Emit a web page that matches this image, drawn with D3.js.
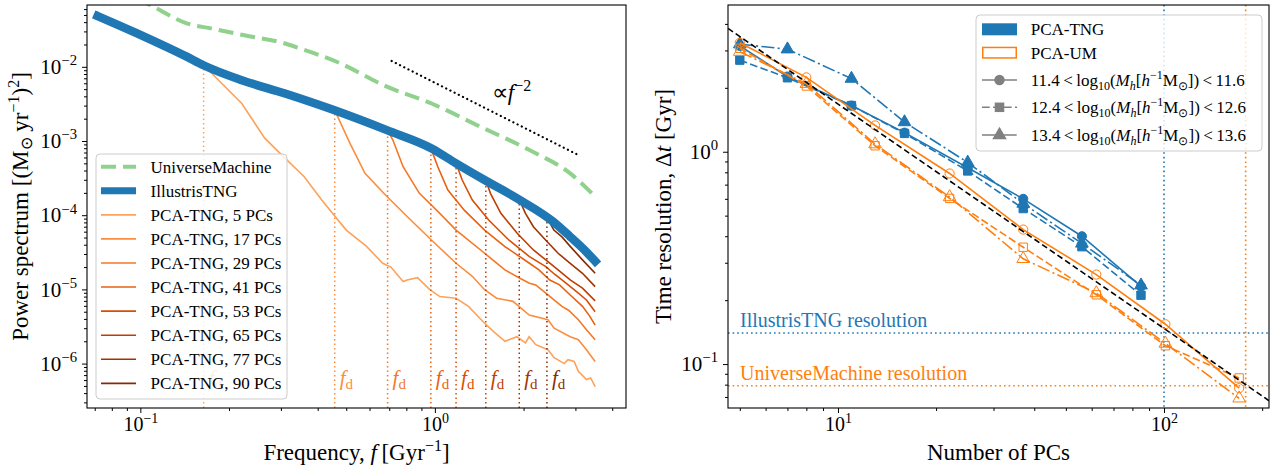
<!DOCTYPE html>
<html><head><meta charset="utf-8">
<script src="https://cdn.jsdelivr.net/npm/d3@7"></script>
<style>
body{margin:0;background:#fff}
text{font-family:"Liberation Serif","Times New Roman",serif;fill:#000}
</style>
</head><body>
<svg id="c" width="1277" height="468"></svg>
<script>
// ---------------- LEFT PANEL DATA ----------------
const freqDomain = [0.0659, 4.455];
const powerDomain = [2.52e-7, 0.0681];
const tngSpectrum = [[0.0716,0.0484],[0.1,0.027],[0.1437,0.0137],[0.1638,0.0105],[0.221,6.6e-3],[0.31,4.36e-3],[0.454,2.61e-3],[0.687,1.40e-3],[0.975,7.95e-4],[1.18,5.0e-4],[1.475,2.98e-4],[1.945,1.6e-4],[2.52,8.2e-5],[2.87,5.2e-5],[3.27,3.2e-5],[3.5,2.4e-5]];
const umSpectrum = [[0.0716,0.15],[0.108,0.068],[0.1437,0.0386],[0.175,0.0327],[0.2254,0.0266],[0.31,0.0206],[0.348,0.0177],[0.464,0.0117],[0.687,5.4e-3],[0.975,3.2e-3],[1.43,1.55e-3],[2.094,7.55e-4],[2.88,3.66e-4],[3.5,1.78e-4]];
const pcaCounts = [5,17,29,41,53,65,77,90];
const pcaLabels = ["PCA-TNG, 5 PCs","PCA-TNG, 17 PCs","PCA-TNG, 29 PCs","PCA-TNG, 41 PCs","PCA-TNG, 53 PCs","PCA-TNG, 65 PCs","PCA-TNG, 77 PCs","PCA-TNG, 90 PCs"];
const pcaFd = [0.164,0.457,0.691,0.969,1.18,1.489,1.934,2.401];
const pca5 = [[0.164,1.05e-2],[0.221,3.2e-3],[0.264,1.1e-3],[0.294,7.2e-4],[0.36,3.3e-4],[0.413,1.6e-4],[0.50,6.3e-5],[0.586,3.8e-5],[0.665,2.25e-5],[0.709,2.0e-5],[0.78,1.28e-5],[0.805,1.34e-5],[0.873,1.44e-5],[0.959,1.0e-5],[1.039,8.0e-6],[1.18,7.6e-6],[1.30,5.9e-6],[1.475,3.5e-6],[1.60,2.6e-6],[1.73,2.0e-6],[1.90,2.3e-6],[2.03,1.9e-6],[2.09,2.3e-6],[2.20,1.8e-6],[2.42,1.54e-6],[2.54,1.2e-6],[2.75,1.0e-6],[2.83,1.13e-6],[2.97,1.07e-6],[3.07,7.9e-7],[3.27,6.1e-7],[3.38,6.4e-7],[3.5,4.9e-7]];
const pca17 = [[0.457,2.6e-3],[0.515,9.3e-4],[0.579,3.67e-4],[0.677,1.9e-4],[0.805,9.6e-5],[0.975,4.6e-5],[1.18,2.25e-5],[1.34,1.5e-5],[1.475,9.9e-6],[1.62,7.6e-6],[1.84,6.9e-6],[1.93,5.9e-6],[2.09,4.5e-6],[2.42,3.9e-6],[2.54,3.0e-6],[2.88,2.3e-6],[3.07,2.1e-6],[3.27,1.54e-6],[3.5,1.07e-6]];
const pca29 = [[0.691,1.39e-3],[0.72,1.03e-3],[0.78,4.5e-4],[0.886,1.97e-4],[1.039,1.06e-4],[1.18,6.3e-5],[1.475,3.07e-5],[1.729,1.83e-5],[1.95,1.4e-5],[2.094,1.21e-5],[2.2,1.15e-5],[2.38,8.9e-6],[2.70,5.9e-6],[2.85,5.2e-6],[3.07,3.9e-6],[3.27,2.86e-6],[3.5,2.1e-6]];
const pca41 = [[0.969,8.0e-4],[1.023,4.5e-4],[1.107,2.18e-4],[1.258,1.17e-4],[1.475,6.3e-5],[1.729,3.78e-5],[2.094,2.25e-5],[2.25,1.85e-5],[2.455,1.34e-5],[2.65,1.15e-5],[2.88,8.4e-6],[3.17,5.9e-6],[3.35,4.4e-6],[3.5,3.3e-6]];
const pca53 = [[1.18,5.0e-4],[1.238,2.98e-4],[1.34,1.6e-4],[1.523,8.6e-5],[1.786,4.6e-5],[2.094,2.77e-5],[2.38,2.03e-5],[2.55,1.6e-5],[2.70,1.34e-5],[3.07,8.9e-6],[3.27,7.2e-6],[3.5,5.0e-6]];
const pca65 = [[1.489,2.95e-4],[1.544,1.97e-4],[1.675,1.06e-4],[1.903,5.7e-5],[2.16,3.4e-5],[2.38,2.5e-5],[2.62,1.83e-5],[2.88,1.34e-5],[3.17,1.04e-5],[3.5,7.0e-6]];
const pca77 = [[1.934,1.62e-4],[2.03,1.06e-4],[2.16,7.0e-5],[2.38,4.6e-5],[2.62,3.07e-5],[2.88,2.25e-5],[3.17,1.65e-5],[3.5,1.09e-5]];
const pca90 = [[2.401,9.3e-5],[2.535,6.3e-5],[2.70,5.1e-5],[2.88,3.8e-5],[3.17,2.5e-5],[3.5,1.65e-5]];
const slopeGuide = [[0.713,0.012],[3.03,6.64e-4]];
const slopeLabelAt = [1.56, 3.6e-3];
const freqMajor = [0.1, 1];
const powerMajor = [1e-6,1e-5,1e-4,1e-3,1e-2];

// ---------------- RIGHT PANEL DATA ----------------
const pcDomain = [4.60, 209.9];
const dtDomain = [0.0621, 4.91];
const tngN = [5,7,11,16,25,37,56,85];
const tngDtLow = [3.15,2.26,1.65,1.23,0.84,0.60,0.40,0.232];
const tngDtMid = [2.70,2.23,1.65,1.22,0.812,0.54,0.357,0.211];
const tngDtHigh = [3.21,3.04,2.21,1.38,0.89,0.57,0.37,0.235];
const umN = [5,8,13,22,37,62,101,170];
const umDtLow = [3.26,2.24,1.33,0.79,0.43,0.264,0.154,0.077];
const umDtMid = [3.07,2.04,1.067,0.603,0.355,0.212,0.122,0.086];
const umDtHigh = [2.96,2.09,1.086,0.612,0.313,0.216,0.125,0.069];
const fitLine = [[4.6,3.81],[210,0.0672]];
const tngResolution = 0.14, umResolution = 0.079;
const tngSnapshots = 100, umSnapshots = 178;
const massBins = [["11.4","11.6"],["12.4","12.6"],["13.4","13.6"]];
const pcMajor = [10, 100];
const dtMajor = [0.1, 1];

// ---------------- SETUP ----------------
const svg = d3.select('#c');
const L = {x0:87,x1:626,y0:5,y1:408};
const R = {x0:728,x1:1269,y0:5,y1:408};
const BLUE = '#1f77b4', ORANGE = '#ff7f0e', GREEN = '#90d18d';
const pcaColors = pcaCounts.map((d,i)=>d3.interpolateOranges(0.42 + i*0.55/7));
const pcaTails = [pca5,pca17,pca29,pca41,pca53,pca65,pca77,pca90];

const xL = d3.scaleLog().domain(freqDomain).range([L.x0,L.x1]);
const yL = d3.scaleLog().domain(powerDomain).range([L.y1,L.y0]);
const xR = d3.scaleLog().domain(pcDomain).range([R.x0,R.x1]);
const yR = d3.scaleLog().domain(dtDomain).range([R.y1,R.y0]);

const defs = svg.append('defs');
defs.append('clipPath').attr('id','clipL').append('rect').attr('x',L.x0).attr('y',L.y0).attr('width',L.x1-L.x0).attr('height',L.y1-L.y0);
defs.append('clipPath').attr('id','clipR').append('rect').attr('x',R.x0).attr('y',R.y0).attr('width',R.x1-R.x0).attr('height',R.y1-R.y0);

function minorTicks(domain){
  const out=[]; const lo=Math.floor(Math.log10(domain[0])), hi=Math.ceil(Math.log10(domain[1]));
  for(let e=lo;e<=hi;e++) for(let k=2;k<=9;k++){const v=k*Math.pow(10,e); if(v>=domain[0]&&v<=domain[1]) out.push(v);}
  return out;
}
function sciText(sel, fs){
  sel.each(function(d){
    const e=Math.round(Math.log10(d)); const t=d3.select(this); t.text(null);
    t.append('tspan').text('10');
    t.append('tspan').attr('dy',-0.42*fs).attr('font-size',fs*0.7).text(e<0?'\u2212'+(-e):String(e));
  });
}
function drawAxes(box,x,y,xMaj,yMaj){
  const g=svg.append('g');
  const gx=g.append('g').attr('transform',`translate(0,${box.y1})`)
    .call(d3.axisBottom(x).tickValues(xMaj).tickSize(5).tickPadding(5).tickSizeOuter(0));
  const gxm=g.append('g').attr('transform',`translate(0,${box.y1})`)
    .call(d3.axisBottom(x).tickValues(minorTicks(x.domain())).tickSize(3).tickFormat('').tickSizeOuter(0));
  const gy=g.append('g').attr('transform',`translate(${box.x0},0)`)
    .call(d3.axisLeft(y).tickValues(yMaj).tickSize(5).tickPadding(5).tickSizeOuter(0));
  const gym=g.append('g').attr('transform',`translate(${box.x0},0)`)
    .call(d3.axisLeft(y).tickValues(minorTicks(y.domain())).tickSize(3).tickFormat('').tickSizeOuter(0));
  [gx,gxm,gy,gym].forEach(a=>{a.select('.domain').remove(); a.attr('font-family',null).attr('font-size',null);
    a.selectAll('.tick line').attr('stroke','#000').attr('stroke-width',1);});
  gx.selectAll('.tick text').attr('font-size',20).attr('y',9).call(s=>sciText(s,20));
  gy.selectAll('.tick text').attr('font-size',21).call(s=>sciText(s,21));
  g.append('rect').attr('x',box.x0).attr('y',box.y0).attr('width',box.x1-box.x0).attr('height',box.y1-box.y0)
    .attr('fill','none').attr('stroke','#000').attr('stroke-width',1.1);
}

// ---------------- LEFT PANEL ----------------
const lineL = d3.line().x(d=>xL(d[0])).y(d=>yL(d[1]));
const gL = svg.append('g').attr('clip-path','url(#clipL)');

// f_d labels (drawn first so that the legend covers the leftmost one, as in the reference)
pcaFd.forEach((f,i)=>{
  const t=svg.append('text').attr('x',xL(f)+5).attr('y',385).attr('font-size',21).attr('fill',pcaColors[i]);
  t.append('tspan').attr('font-style','italic').attr('fill',pcaColors[i]).text('f');
  t.append('tspan').attr('dy',4).attr('font-size',15).attr('fill',pcaColors[i]).text('d');
});
// PCA curves (identical to TNG below f_d, then their own tail)
pcaTails.forEach((tail,i)=>{
  const pts = tngSpectrum.filter(d=>d[0]<pcaFd[i]).concat(tail);
  gL.append('path').attr('d',lineL(pts)).attr('fill','none').attr('stroke',pcaColors[i]).attr('stroke-width',1.6);
});
// f_d markers
pcaTails.forEach((tail,i)=>{
  gL.append('line').attr('x1',xL(pcaFd[i])).attr('x2',xL(pcaFd[i])).attr('y1',L.y1).attr('y2',yL(tail[0][1]))
    .attr('stroke',pcaColors[i]).attr('stroke-width',1.5).attr('stroke-dasharray','1.5,3');
});
gL.append('path').attr('d',d3.line().x(d=>xL(d[0])).y(d=>yL(d[1])).curve(d3.curveMonotoneX)(umSpectrum))
  .attr('fill','none').attr('stroke',GREEN).attr('stroke-width',4).attr('stroke-dasharray','15,7');
gL.append('path').attr('d',d3.line().x(d=>xL(d[0])).y(d=>yL(d[1])).curve(d3.curveMonotoneX)(tngSpectrum))
  .attr('fill','none').attr('stroke',BLUE).attr('stroke-width',8.5).attr('stroke-linecap','square');
gL.append('path').attr('d',lineL(slopeGuide)).attr('fill','none').attr('stroke','#000').attr('stroke-width',2.2)
  .attr('stroke-dasharray','0.1,4.6').attr('stroke-linecap','round');
// proportional label
{
  const t=svg.append('text').attr('x',xL(slopeLabelAt[0])).attr('y',yL(slopeLabelAt[1])).attr('font-size',23);
  t.append('tspan').text('\u221D');
  t.append('tspan').attr('font-style','italic').text('f');
  t.append('tspan').attr('dy',-9).attr('font-size',16).text('\u22122');
}
drawAxes(L,xL,yL,freqMajor,powerMajor);

// left legend
{
  const g=svg.append('g');
  g.append('rect').attr('x',96).attr('y',154).attr('width',191).attr('height',245).attr('rx',4)
    .attr('fill','#fff').attr('fill-opacity',0.8).attr('stroke','#ccc').attr('stroke-width',1);
  const items=[{label:'UniverseMachine',color:GREEN,w:4,dash:'15,7'},{label:'IllustrisTNG',color:BLUE,w:7,dash:null}]
    .concat(pcaLabels.map((l,i)=>({label:l,color:pcaColors[i],w:1.6,dash:null})));
  items.forEach((it,i)=>{
    const cy=166.7+i*24.07;
    g.append('line').attr('x1',101).attr('x2',136).attr('y1',cy).attr('y2',cy).attr('stroke',it.color)
      .attr('stroke-width',it.w).attr('stroke-dasharray',it.dash);
    g.append('text').attr('x',150.6).attr('y',cy+6).attr('font-size',17).text(it.label);
  });
}
// left axis labels
{
  const t=svg.append('text').attr('x',(L.x0+L.x1)/2).attr('y',460).attr('text-anchor','middle').attr('font-size',23);
  t.append('tspan').text('Frequency, ');
  t.append('tspan').attr('font-style','italic').text('f');
  t.append('tspan').text('\u2009[Gyr');
  t.append('tspan').attr('dy',-9).attr('font-size',16).text('\u22121');
  t.append('tspan').attr('dy',9).text(']');
  const y=svg.append('text').attr('transform',`translate(28,${(L.y0+L.y1)/2}) rotate(-90)`).attr('text-anchor','middle').attr('font-size',23);
  y.append('tspan').text('Power spectrum [(M');
  y.append('tspan').attr('dy',4).attr('font-size',16).text('\u2299');
  y.append('tspan').attr('dy',-4).text(' yr');
  y.append('tspan').attr('dy',-9).attr('font-size',16).text('\u22121');
  y.append('tspan').attr('dy',9).text(')');
  y.append('tspan').attr('dy',-9).attr('font-size',16).text('2');
  y.append('tspan').attr('dy',9).text(']');
}

// ---------------- RIGHT PANEL ----------------
const gR = svg.append('g').attr('clip-path','url(#clipR)');
gR.append('line').attr('x1',R.x0).attr('x2',R.x1).attr('y1',yR(tngResolution)).attr('y2',yR(tngResolution))
  .attr('stroke',BLUE).attr('stroke-width',1.6).attr('stroke-dasharray','1.6,3');
gR.append('line').attr('x1',R.x0).attr('x2',R.x1).attr('y1',yR(umResolution)).attr('y2',yR(umResolution))
  .attr('stroke',ORANGE).attr('stroke-width',1.6).attr('stroke-dasharray','1.6,3');
gR.append('line').attr('x1',xR(tngSnapshots)).attr('x2',xR(tngSnapshots)).attr('y1',R.y0).attr('y2',R.y1)
  .attr('stroke',BLUE).attr('stroke-width',1.6).attr('stroke-dasharray','1.6,3');
gR.append('line').attr('x1',xR(umSnapshots)).attr('x2',xR(umSnapshots)).attr('y1',R.y0).attr('y2',R.y1)
  .attr('stroke',ORANGE).attr('stroke-width',1.6).attr('stroke-dasharray','1.6,3');

const dashes = [null,'7.7,3.3','13,3.3,2.1,3.3'];
const symbols = [d3.symbolCircle,d3.symbolSquare,d3.symbolTriangle];
const symSizes = [66,70,70];
const series = [
  {n:tngN,dt:tngDtLow,c:BLUE,fill:true,k:0},{n:tngN,dt:tngDtMid,c:BLUE,fill:true,k:1},{n:tngN,dt:tngDtHigh,c:BLUE,fill:true,k:2},
  {n:umN,dt:umDtLow,c:ORANGE,fill:false,k:0},{n:umN,dt:umDtMid,c:ORANGE,fill:false,k:1},{n:umN,dt:umDtHigh,c:ORANGE,fill:false,k:2}
];
const lineR = d3.line().x(d=>xR(d[0])).y(d=>yR(d[1]));
series.forEach(s=>{
  const pts=s.n.map((n,i)=>[n,s.dt[i]]);
  gR.append('path').attr('d',lineR(pts)).attr('fill','none').attr('stroke',s.c).attr('stroke-width',1.6)
    .attr('stroke-dasharray',dashes[s.k]);
  gR.selectAll(null).data(pts).join('path')
    .attr('transform',d=>`translate(${xR(d[0])},${yR(d[1])})`)
    .attr('d',d3.symbol().type(symbols[s.k]).size(symSizes[s.k]))
    .attr('fill',s.fill?s.c:'none').attr('stroke',s.c).attr('stroke-width',1);
});
gR.append('path').attr('d',lineR(fitLine)).attr('fill','none').attr('stroke','#000').attr('stroke-width',1.6)
  .attr('stroke-dasharray','6,3.3');

svg.append('text').attr('x',740).attr('y',327).attr('font-size',20).style('fill',BLUE).text('IllustrisTNG resolution');
svg.append('text').attr('x',740).attr('y',380).attr('font-size',20).style('fill',ORANGE).text('UniverseMachine resolution');

drawAxes(R,xR,yR,pcMajor,dtMajor);

// right legend
{
  const g=svg.append('g');
  g.append('rect').attr('x',976).attr('y',15).attr('width',286).attr('height',136).attr('rx',4)
    .attr('fill','#fff').attr('fill-opacity',0.8).attr('stroke','#ccc').attr('stroke-width',1);
  const rows=[29.3,52.7,80,107.3,135];
  g.append('rect').attr('x',982).attr('y',rows[0]-6).attr('width',35).attr('height',12).attr('fill',BLUE);
  g.append('rect').attr('x',982.75).attr('y',rows[1]-5.25).attr('width',33.5).attr('height',10.5).attr('fill','none').attr('stroke',ORANGE).attr('stroke-width',1.5);
  g.append('text').attr('x',1030.7).attr('y',rows[0]+6).attr('font-size',17).text('PCA-TNG');
  g.append('text').attr('x',1030.7).attr('y',rows[1]+6).attr('font-size',17).text('PCA-UM');
  massBins.forEach((b,i)=>{
    const cy=rows[2+i];
    g.append('line').attr('x1',982).attr('x2',1017).attr('y1',cy).attr('y2',cy).attr('stroke','#808080')
      .attr('stroke-width',1.6).attr('stroke-dasharray',dashes[i]);
    g.append('path').attr('transform',`translate(999.5,${cy})`).attr('d',d3.symbol().type(symbols[i]).size(symSizes[i]*1.3)).attr('fill','#808080');
    const t=g.append('text').attr('x',1030.7).attr('y',cy+6).attr('font-size',17);
    t.append('tspan').text(b[0]+'\u2009<\u2009log');
    t.append('tspan').attr('dy',4).attr('font-size',12).text('10');
    t.append('tspan').attr('dy',-4).text('(');
    t.append('tspan').attr('font-style','italic').text('M');
    t.append('tspan').attr('dy',4).attr('font-size',12).attr('font-style','italic').text('h');
    t.append('tspan').attr('dy',-4).text('[');
    t.append('tspan').attr('font-style','italic').text('h');
    t.append('tspan').attr('dy',-7).attr('font-size',12).text('\u22121');
    t.append('tspan').attr('dy',7).text('M');
    t.append('tspan').attr('dy',4).attr('font-size',12).text('\u2299');
    t.append('tspan').attr('dy',-4).text('])\u2009<\u2009'+b[1]);
  });
}
// right axis labels
{
  svg.append('text').attr('x',(R.x0+R.x1)/2).attr('y',460).attr('text-anchor','middle').attr('font-size',23).text('Number of PCs');
  const y=svg.append('text').attr('transform',`translate(671,${(R.y0+R.y1)/2}) rotate(-90)`).attr('text-anchor','middle').attr('font-size',23);
  y.append('tspan').text('Time resolution, \u0394');
  y.append('tspan').attr('font-style','italic').text('t');
  y.append('tspan').text(' [Gyr]');
}
</script>
</body></html>
